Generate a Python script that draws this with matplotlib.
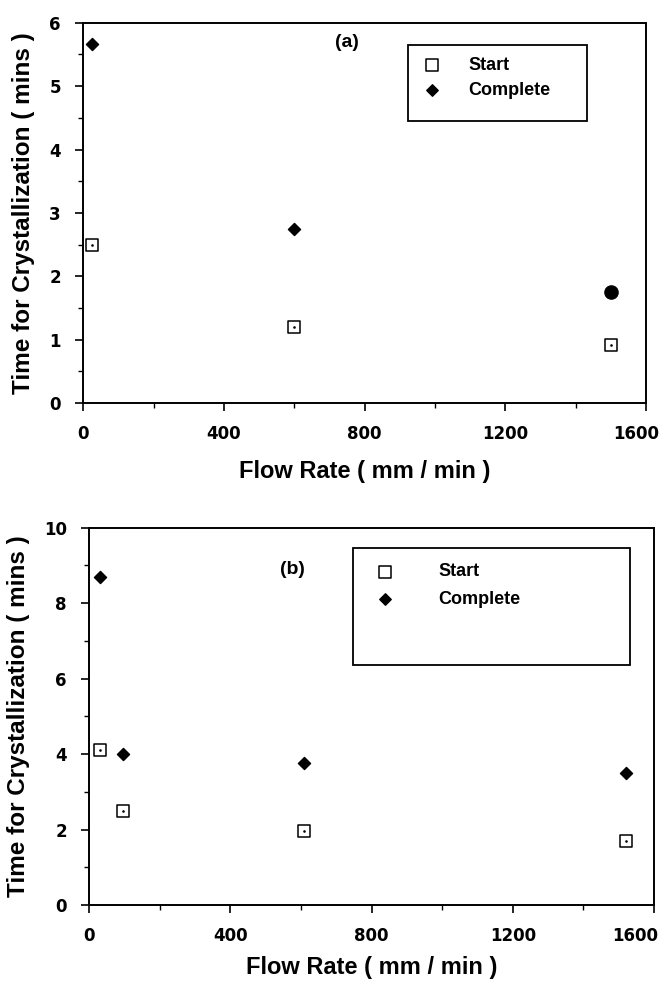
import matplotlib.pyplot as plt
from matplotlib.patches import Rectangle
from matplotlib.ticker import MultipleLocator
from matplotlib.transforms import ScaledTranslation

plt.rcParams['font.family'] = ['Liberation Sans', 'DejaVu Sans']
plt.rcParams['font.weight'] = 'bold'

# panel (a)
flow_a = [25, 600, 1500]
start_a = [2.5, 1.2, 0.92]
complete_a = [5.67, 2.75, 1.75]

# panel (b)
flow_b = [30, 95, 610, 1520]
start_b = [4.12, 2.48, 1.95, 1.7]
complete_b = [8.7, 4.0, 3.75, 3.5]

xticks = [0, 400, 800, 1200, 1600]
yticks_a = [0, 1, 2, 3, 4, 5, 6]
yticks_b = [0, 2, 4, 6, 8, 10]

fig = plt.figure(figsize=(6.6, 9.88), dpi=100)
ax1 = fig.add_axes([0.126, 0.592, 0.853, 0.385])
ax2 = fig.add_axes([0.135, 0.084, 0.856, 0.382])


def style_axis(ax, yticks, yminor, last_shift):
    ax.set_xlim(0, 1600)
    ax.set_ylim(yticks[0], yticks[-1])
    ax.set_xticks(xticks)
    ax.set_yticks(yticks)
    ax.xaxis.set_minor_locator(MultipleLocator(200))
    ax.yaxis.set_minor_locator(MultipleLocator(yminor))
    ax.tick_params(which='major', direction='out', length=6, width=1.2,
                   labelsize=12, pad=10)
    ax.tick_params(which='minor', direction='out', length=3.5, width=1.0)
    for s in ax.spines.values():
        s.set_linewidth(1.4)
    for lab in ax.get_xticklabels() + ax.get_yticklabels():
        lab.set_fontweight('bold')
        lab.set_family('DejaVu Sans')
    # last x label sits a bit left, as in the original
    last = ax.get_xticklabels()[-1]
    last.set_transform(last.get_transform() +
                       ScaledTranslation(-last_shift / 100, 0,
                                         fig.dpi_scale_trans))
    ax.set_ylabel('Time for Crystallization ( mins )', fontsize=17.5,
                  fontweight='bold', labelpad=10)


def draw(ax, flow, start, complete, marker_c):
    ax.scatter(flow, start, marker='s', s=70, facecolors='white',
               edgecolors='black', linewidths=1.1, label='Start', zorder=3)
    ax.scatter(flow, start, marker='.', s=3, color='black', zorder=4)
    for x, y, m in zip(flow, complete, marker_c):
        ax.scatter([x], [y], marker=m, s=38 if m == 'D' else 90,
                   color='black', zorder=3)
    ax.scatter([], [], marker='D', s=34, color='black', label='Complete')


def legend_box(ax, box, anchor, textpad, spacing):
    ax.add_patch(Rectangle(box[:2], box[2], box[3], transform=ax.transAxes,
                           facecolor='white', edgecolor='black',
                           linewidth=1.3, zorder=5))
    leg = ax.legend(loc='center left', bbox_to_anchor=anchor, frameon=False,
                    borderpad=0, borderaxespad=0, handlelength=1.0,
                    handletextpad=textpad, labelspacing=spacing,
                    scatterpoints=1, prop={'weight': 'bold', 'size': 13})
    leg.set_zorder(6)


draw(ax1, flow_a, start_a, complete_a, ['D', 'D', 'o'])
style_axis(ax1, yticks_a, 0.5, 10)
ax1.set_xlabel('Flow Rate ( mm / min )', fontsize=17, fontweight='bold',
               labelpad=12)
ax1.text(0.469, 0.947, '(a)', transform=ax1.transAxes, fontsize=14,
         fontweight='bold', ha='center', va='center')
legend_box(ax1, (0.577, 0.742, 0.318, 0.2), (0.604, 0.855), 1.5, 0.45)

draw(ax2, flow_b, start_b, complete_b, ['D', 'D', 'D', 'D'])
style_axis(ax2, yticks_b, 1, 19)
ax2.set_xlabel('Flow Rate ( mm / min )', fontsize=17, fontweight='bold',
               labelpad=8)
ax2.text(0.36, 0.889, '(b)', transform=ax2.transAxes, fontsize=14,
         fontweight='bold', ha='center', va='center')
legend_box(ax2, (0.467, 0.637, 0.49, 0.31), (0.508, 0.846), 2.44, 0.6)

fig.savefig('out.png', dpi=100)
